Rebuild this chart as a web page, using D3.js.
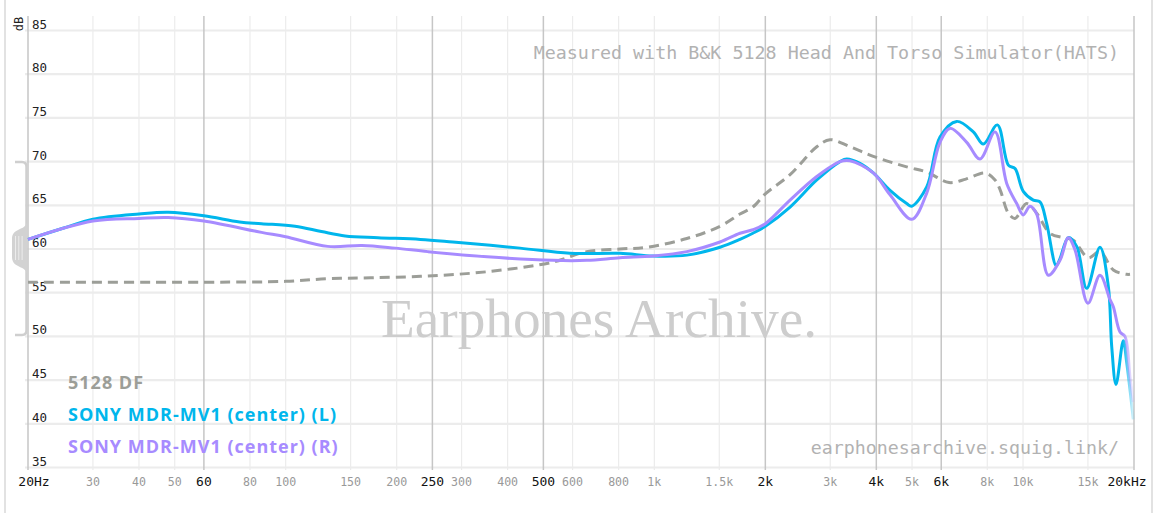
<!DOCTYPE html>
<html><head><meta charset="utf-8">
<script src="https://cdn.jsdelivr.net/npm/d3@7"></script>
<style>
html,body{margin:0;padding:0;background:#fff;}
svg{display:block;}
</style></head>
<body>
<svg id="chart" width="1156" height="513"></svg>
<script>
// ---------- DATA ----------
const freqTicks = [20,30,40,50,60,80,100,150,200,250,300,400,500,600,800,1000,1500,2000,3000,4000,5000,6000,8000,10000,15000,20000];
const freqTickLabels = ["20Hz","30","40","50","60","80","100","150","200","250","300","400","500","600","800","1k","1.5k","2k","3k","4k","5k","6k","8k","10k","15k","20kHz"];
const majorFreqs = [20,60,250,500,2000,4000,6000,20000];
const dbTicks = [35,40,45,50,55,60,65,70,75,80,85];

const seriesNames = ["5128 DF","SONY MDR-MV1 (center) (L)","SONY MDR-MV1 (center) (R)"];
const seriesColors = ["#9c9e98","#00b6ec","#a78bff"];

const dfFreq = [20,60,100,130,170,240,352,531,655,807,953,1225,1507,1707,1850,2000,2334,2758,2995,3394,3926,4836,5480,6300,7000,7890,8396,8664,9124,9512,10230,10892,11836,12864,13692,15034,16172,17578,19108,19508];
const dfDb   = [56.2,56.2,56.3,56.6,56.7,56.9,57.4,58.5,59.7,60.0,60.2,61.2,62.6,64.0,64.8,66.3,68.5,71.7,72.5,71.7,70.6,69.4,68.8,67.6,68.0,68.7,67.9,66.8,64.1,63.5,65.2,64.1,61.8,61.3,61.0,59.0,59.7,57.6,57.1,57.1];

const lFreq = [20,25,30,40,48,60,75,86,106,125,145,178,232,284,432,590,807,991,1225,1507,1707,1850,2000,2334,2758,3188,3324,3612,3926,4358,4836,4990,5480,5954,6608,7332,7806,8518,9124,9512,10016,10664,11118,11594,12300,12600,13270,13984,14884,16172,17040,17404,17876,18708,19108,19916];
const lDb   = [61.1,62.4,63.4,64.0,64.2,63.8,63.1,62.9,62.6,62.0,61.5,61.3,61.1,60.8,60.1,59.5,59.5,59.2,59.3,60.2,61.1,61.8,62.6,64.8,67.9,70.0,70.3,69.8,68.7,66.7,65.2,64.9,67.1,72.8,74.6,73.4,72.0,74.2,69.6,69.2,66.6,65.6,65.4,62.9,58.1,58.9,61.3,60.3,55.5,60.2,55.7,48.8,44.5,49.5,47.0,40.5];

const rFreq = [20,30,40,48,60,86,100,130,161,198,243,352,531,656,807,991,1225,1507,1707,1850,2000,2334,2758,3188,3394,3926,4358,4990,5480,5954,6338,7036,7646,8396,9032,9614,10016,10444,10892,11712,12600,13270,13836,15000,16172,17218,17578,18328,18908,19508,19916];
const rDb   = [61.1,63.2,63.5,63.6,63.2,61.9,61.4,60.3,60.4,60.1,59.7,59.1,58.7,58.7,59.0,59.2,59.7,60.8,61.8,62.2,62.9,65.6,68.3,70.0,70.1,68.7,66.2,63.4,66.4,72.2,73.8,72.2,70.3,73.4,67.5,65.2,63.9,64.9,64.0,57.0,58.7,61.3,59.9,53.8,57.0,54.2,53.4,50.5,50.0,45.4,42.5];

// ---------- CHART ----------
const svg = d3.select("#chart");
const W = 1156, H = 513;
const x = d3.scaleLog().domain([20,20000]).range([28,1134]);
const y = d3.scaleLinear().domain([35,85]).range([467.5,30.5]);

svg.append("rect").attr("width",W).attr("height",H).attr("fill","#fff");

// outer borders
svg.append("line").attr("x1",5).attr("x2",5).attr("y1",0).attr("y2",H).attr("stroke","#d8d8d8").attr("stroke-width",1.5);
svg.append("line").attr("x1",1152).attr("x2",1152).attr("y1",0).attr("y2",H).attr("stroke","#d8d8d8").attr("stroke-width",1.5);

// horizontal grid
svg.append("g").selectAll("line").data(dbTicks).join("line")
  .attr("x1",25).attr("x2",x(20000))
  .attr("y1",d=>y(d)).attr("y2",d=>y(d))
  .attr("stroke","#ececec").attr("stroke-width",2.2);

// vertical grid
svg.append("g").selectAll("line").data(freqTicks).join("line")
  .attr("x1",d=>x(d)).attr("x2",d=>x(d))
  .attr("y1",16).attr("y2",470)
  .attr("stroke",d=>majorFreqs.includes(d)?"#c6c6c6":"#ececec")
  .attr("stroke-width",d=>majorFreqs.includes(d)?1.5:1.2);

// y-scaler handle
const hg = svg.append("g");
hg.append("path").attr("d","M15,162 H22 Q26.5,162 26.5,167 V330 Q26.5,335 22,335 H15")
  .attr("fill","none").attr("stroke","#cfcfcf").attr("stroke-width",2.5);
hg.append("path").attr("d","M27,221 C27,231 12,227 12,239 V257 C12,269 27,265 27,275 Z")
  .attr("fill","#d2d2d2");
[15.5,18.8,22.1].forEach(gx=>{
  hg.append("line").attr("x1",gx).attr("x2",gx).attr("y1",236).attr("y2",260)
    .attr("stroke","#ececec").attr("stroke-width",1);
});

// y labels
svg.append("g").selectAll("text").data(dbTicks).join("text")
  .attr("x",32).attr("y",d=>y(d)-2)
  .attr("font-family","DejaVu Sans Mono, monospace").attr("font-size",12.5)
  .attr("fill","#222").text(d=>d);
svg.append("text").attr("transform","translate(23,24) rotate(-90)")
  .attr("text-anchor","middle")
  .attr("font-family","DejaVu Sans Mono, monospace").attr("font-size",12)
  .attr("fill","#222").text("dB");

// x labels
svg.append("g").selectAll("text").data(freqTicks).join("text")
  .attr("x",(d,i)=>x(d) + (i===0?6:(i===freqTicks.length-1?-7:0)))
  .attr("y",486)
  .attr("text-anchor","middle")
  .attr("font-family","DejaVu Sans Mono, monospace")
  .attr("font-size",d=>majorFreqs.includes(d)?13:11.6)
  .attr("fill",d=>majorFreqs.includes(d)?"#111":"#999")
  .text((d,i)=>freqTickLabels[i]);

// watermark & notes
svg.append("text").attr("x",599).attr("y",337).attr("text-anchor","middle")
  .attr("font-family","Liberation Serif, serif").attr("font-size",55.3)
  .attr("fill","#cdcdcd").text("Earphones Archive.");
svg.append("text").attr("x",1119).attr("y",59).attr("text-anchor","end")
  .attr("font-family","DejaVu Sans Mono, monospace").attr("font-size",18.35)
  .attr("fill","#b2b2b2").text("Measured with B&K 5128 Head And Torso Simulator(HATS)");
svg.append("text").attr("x",1119).attr("y",454).attr("text-anchor","end")
  .attr("font-family","DejaVu Sans Mono, monospace").attr("font-size",18.3)
  .attr("fill","#b2b2b2").text("earphonesarchive.squig.link/");

// gradients for fade at the top end
const defs = svg.append("defs");
[1,2].forEach(i=>{
  const g = defs.append("linearGradient").attr("id","fade"+i)
    .attr("gradientUnits","userSpaceOnUse")
    .attr("x1",x(17000)).attr("x2",x(20000)).attr("y1",0).attr("y2",0);
  g.append("stop").attr("offset","0.55").attr("stop-color",seriesColors[i]).attr("stop-opacity",1);
  g.append("stop").attr("offset","1").attr("stop-color",seriesColors[i]).attr("stop-opacity",0.1);
});

const line = d3.line().x(d=>x(d[0])).y(d=>y(d[1])).curve(d3.curveCatmullRom.alpha(0.5));

const dfData = dfFreq.map((f,i)=>[f,dfDb[i]]);
const lData = lFreq.map((f,i)=>[f,lDb[i]]);
const rData = rFreq.map((f,i)=>[f,rDb[i]]);

svg.append("path").datum(dfData).attr("d",line)
  .attr("fill","none").attr("stroke",seriesColors[0]).attr("stroke-width",3)
  .attr("stroke-dasharray","10,6");
svg.append("path").datum(lData).attr("d",line)
  .attr("fill","none").attr("stroke","url(#fade1)").attr("stroke-width",3);
svg.append("path").datum(rData).attr("d",line)
  .attr("fill","none").attr("stroke","url(#fade2)").attr("stroke-width",3);

// legend
svg.append("g").selectAll("text").data(seriesNames).join("text")
  .attr("x",68).attr("y",(d,i)=>389+i*32)
  .attr("font-family","Open Sans, sans-serif").attr("font-weight",700).attr("font-size",18)
  .attr("letter-spacing","1px")
  .attr("fill",(d,i)=>seriesColors[i]).text(d=>d);
</script>
</body></html>
